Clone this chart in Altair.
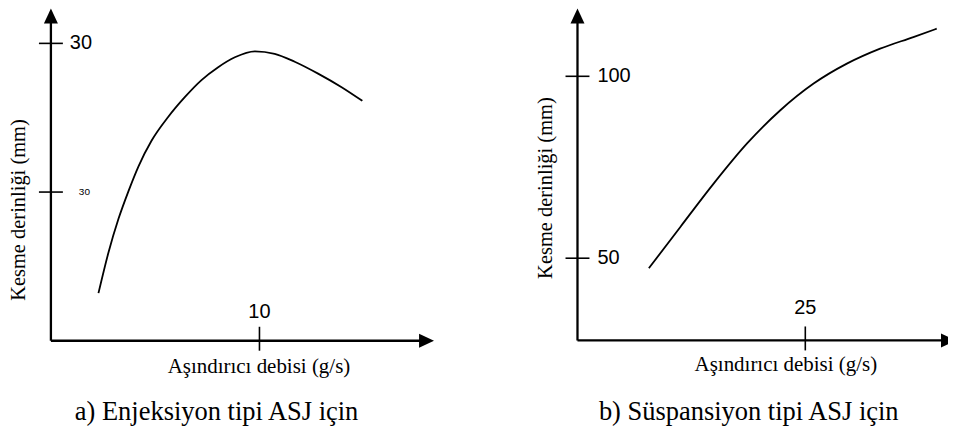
import altair as alt
import pandas as pd

# ---------------- data ----------------
a_flow = [2.28, 2.76, 3.24, 3.72, 4.20, 4.83, 5.63, 6.43, 7.22, 8.02, 8.82, 9.78, 10.73, 11.69, 12.81, 13.92, 14.93]
a_depth = [4.8, 8.9, 12.3, 15.1, 17.6, 20.2, 22.6, 24.6, 26.3, 27.6, 28.6, 29.2, 28.95, 28.15, 26.95, 25.6, 24.2]
b_flow = [7.84, 11.31, 14.96, 18.61, 22.26, 25.91, 29.56, 33.21, 36.86, 39.42]
b_depth = [47.26, 58.67, 70.57, 81.54, 90.67, 98.00, 103.48, 107.60, 110.78, 113.08]

a_xticks = [10]
a_xtick_labels = ["10"]
a_yticks = [30, 15]
a_ytick_labels = ["30", "30"]
b_xticks = [25]
b_xtick_labels = ["25"]
b_yticks = [100, 50]
b_ytick_labels = ["100", "50"]

x_title = "Aşındırıcı debisi (g/s)"
y_title = "Kesme derinliği (mm)"
captions = ["a) Enjeksiyon tipi ASJ için", "b) Süspansiyon tipi ASJ için"]

# ---------------- styling / layout ----------------
SANS = "Liberation Sans, Arial, Helvetica, sans-serif"
SERIF = "Liberation Serif, Times New Roman, Times, serif"
UP = "M0,0L0.933,2L-0.933,2Z"
RIGHT = "M0,0L-2,-0.933L-2,0.933Z"
# right-pointing arrow whose tip is cut off by the picture edge
RIGHT_CUT = "M0,-0.497L-0.933,-0.933L-0.933,0.933L0,0.497Z"


def panel(W, H, ox_px, oy_px, kx, ky, origin, x_end, flow, depth,
          xticks, xlabels, yticks, ylabels, ylab_sizes, ylab_dx, xlab_dy,
          xt_pos, yt_pos, cap_pos, caption, right_shape=RIGHT, xline_off=-10):
    ox, oy = origin
    xdom = [ox - ox_px / kx, ox + (W - ox_px) / kx]
    ydom = [oy - (H - oy_px) / ky, oy + oy_px / ky]
    y_end = ydom[1]
    if x_end is None:
        x_end = xdom[1]
    xs = alt.Scale(domain=xdom, nice=False, zero=False)
    ys = alt.Scale(domain=ydom, nice=False, zero=False)

    def X(f):
        return alt.X(f, type="quantitative", scale=xs, axis=None)

    def Y(f):
        return alt.Y(f, type="quantitative", scale=ys, axis=None)

    curve = alt.Chart(pd.DataFrame({"x": flow, "y": depth})).mark_line(
        color="black", strokeWidth=1.8, interpolate="monotone"
    ).encode(x=X("x"), y=Y("y"))

    haxis = alt.Chart(pd.DataFrame({"x": [ox], "x2": [x_end], "y": [oy]})).mark_rule(
        color="black", strokeWidth=2.3, x2Offset=xline_off
    ).encode(x=X("x"), x2="x2:Q", y=Y("y"))
    vaxis = alt.Chart(pd.DataFrame({"x": [ox], "y": [oy], "y2": [y_end]})).mark_rule(
        color="black", strokeWidth=2.3, y2Offset=10
    ).encode(x=X("x"), y=Y("y"), y2="y2:Q")

    up_arrow = alt.Chart(pd.DataFrame({"x": [ox], "y": [y_end]})).mark_point(
        shape=UP, size=225, filled=True, color="black", opacity=1, strokeWidth=0
    ).encode(x=X("x"), y=Y("y"))
    right_arrow = alt.Chart(pd.DataFrame({"x": [x_end], "y": [oy]})).mark_point(
        shape=right_shape, size=225, filled=True, color="black", opacity=1, strokeWidth=0
    ).encode(x=X("x"), y=Y("y"))

    yt_df = pd.DataFrame({"x": [ox] * len(yticks), "y": yticks})
    ytick_marks = alt.Chart(yt_df).mark_rule(
        color="black", strokeWidth=1.6, xOffset=-12, x2Offset=12
    ).encode(x=X("x"), x2="x:Q", y=Y("y"))
    xt_df = pd.DataFrame({"x": xticks, "y": [oy] * len(xticks)})
    xtick_marks = alt.Chart(xt_df).mark_rule(
        color="black", strokeWidth=1.6, yOffset=-14, y2Offset=10
    ).encode(x=X("x"), y=Y("y"), y2="y:Q")

    xlab = alt.Chart(pd.DataFrame({"x": xticks, "y": [oy] * len(xticks), "t": xlabels})).mark_text(
        font=SANS, fontSize=20, align="center", baseline="alphabetic", dy=xlab_dy, color="black"
    ).encode(x=X("x"), y=Y("y"), text="t:N")

    ylayers = []
    for v, lab, fs, dx in zip(yticks, ylabels, ylab_sizes, ylab_dx):
        ylayers.append(
            alt.Chart(pd.DataFrame({"x": [ox], "y": [v], "t": [lab]})).mark_text(
                font=SANS, fontSize=fs, align="left", baseline="middle", dx=dx, color="black"
            ).encode(x=X("x"), y=Y("y"), text="t:N")
        )

    xtitle = alt.Chart(pd.DataFrame({"t": [x_title]})).mark_text(
        font=SERIF, fontSize=21, align="center", baseline="alphabetic", color="black"
    ).encode(x=alt.value(xt_pos[0]), y=alt.value(xt_pos[1]), text="t:N")
    ytitle = alt.Chart(pd.DataFrame({"t": [y_title]})).mark_text(
        font=SERIF, fontSize=20.5, align="center", baseline="alphabetic", angle=270, color="black"
    ).encode(x=alt.value(yt_pos[0]), y=alt.value(yt_pos[1]), text="t:N")
    cap = alt.Chart(pd.DataFrame({"t": [caption]})).mark_text(
        font=SERIF, fontSize=26.5, align="center", baseline="alphabetic", color="black"
    ).encode(x=alt.value(cap_pos[0]), y=alt.value(cap_pos[1]), text="t:N")

    return alt.layer(
        haxis, vaxis, up_arrow, right_arrow, ytick_marks, xtick_marks,
        curve, xlab, *ylayers, xtitle, ytitle, cap
    ).properties(width=W, height=H)


H = 419
left = panel(
    W=470, H=H, ox_px=41, oy_px=333, kx=20.9, ky=9.933, origin=(0, 0), x_end=18.37,
    flow=a_flow, depth=a_depth,
    xticks=a_xticks, xlabels=a_xtick_labels,
    yticks=a_yticks, ylabels=a_ytick_labels, ylab_sizes=[20, 10], ylab_dx=[19, 28],
    xlab_dy=-23, xt_pos=(249.5, 365), yt_pos=(15, 202), cap_pos=(207, 412),
    caption=captions[0],
)
right = panel(
    W=470, H=H, ox_px=98.7, oy_px=332.7, kx=9.132, ky=3.646, origin=(0, 27.4), x_end=None,
    flow=b_flow, depth=b_depth,
    xticks=b_xticks, xlabels=b_xtick_labels,
    yticks=b_yticks, ylabels=b_ytick_labels, ylab_sizes=[20, 20], ylab_dx=[20, 20],
    xlab_dy=-26.5, xt_pos=(307.5, 363), yt_pos=(73.5, 180), cap_pos=(270.3, 412),
    caption=captions[1], right_shape=RIGHT_CUT, xline_off=-5,
)

chart = alt.hconcat(left, right, spacing=0).properties(padding=0).configure_view(stroke=None)
chart.save("out.html", embed_options={"renderer": "svg", "actions": False})
